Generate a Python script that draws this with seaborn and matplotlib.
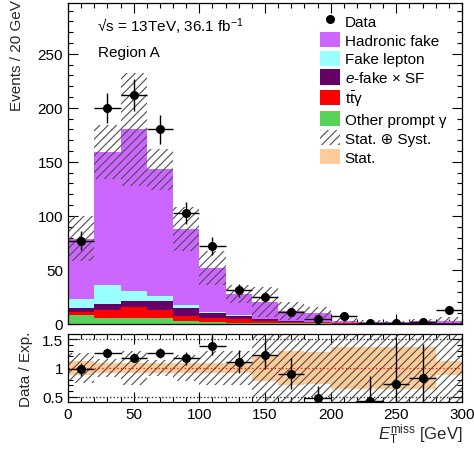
import numpy as np
import pandas as pd
import matplotlib
matplotlib.use("Agg")
import matplotlib.pyplot as plt
from matplotlib.patches import Patch
from matplotlib.lines import Line2D
from matplotlib.ticker import MultipleLocator, FuncFormatter
import seaborn as sns

# ---- binning (E_T^miss, 20 GeV bins) ----
bin_edges = np.arange(0, 320, 20)

# ---- observed events ----
data_counts = [77, 200, 212, 180, 103, 72, 31, 25, 11, 5, 7, 1, 1, 2, 13]

# ---- expected backgrounds per bin ----
hadronic_fake = [55.9, 122.6, 149.4, 117.1, 70.4, 41.2, 20.0, 15.8, 9.2, 8.3, 1.7, 1.4, 0.85, 1.75, 2.3]
fake_lepton = [8.0, 18.2, 9.3, 4.9, 3.1, 0.6, 0.3, 0.5, 0.3, 0.2, 0.1, 0.1, 0.05, 0.05, 0.1]
e_fake_sf = [3.7, 5.2, 5.6, 8.3, 6.8, 5.0, 3.1, 1.2, 0.8, 0.6, 0.3, 0.2, 0.1, 0.2, 0.2]
ttgamma = [3.1, 7.8, 10.5, 7.5, 4.6, 3.7, 3.4, 2.0, 1.3, 0.9, 0.5, 0.3, 0.2, 0.2, 0.2]
other_prompt = [8.3, 5.2, 5.2, 5.2, 3.1, 1.5, 1.2, 1.0, 0.6, 0.5, 0.4, 0.3, 0.2, 0.2, 0.2]

# ---- uncertainties on the total expectation ----
total_unc = [20.5, 25.0, 52.0, 19.0, 20.0, 15.5, 8.5, 14.0, 8.5, 5.2, 3.0, 1.3, 1.4, 2.0, 3.5]
mc_stat_unc = [9.0, 13.0, 14.5, 11.5, 7.0, 4.2, 2.3, 4.7, 3.5, 3.0, 1.1, 0.85, 0.52, 0.89, 0.38]

process_labels = ["Hadronic fake", "Fake lepton", r"$e$-fake $\times$ SF",
                  r"$\mathrm{t\bar{t}}$γ", "Other prompt γ"]
process_colors = ["#cc66ff", "#99ffff", "#660066", "#ff0000", "#5ad25a"]
hatch_color = "#4d4d4d"
stat_color = "#ffcc99"

FS = 11

sns.set_style("ticks")
plt.rcParams.update({
    "font.family": ["Liberation Sans", "DejaVu Sans"],
    "font.size": FS,
    "mathtext.fontset": "custom",
    "mathtext.rm": "Liberation Sans",
    "mathtext.it": "Liberation Sans:italic",
    "mathtext.bf": "Liberation Sans:bold",
    "mathtext.sf": "Liberation Sans",
    "hatch.linewidth": 0.8,
    "hatch.color": hatch_color,
    "axes.linewidth": 0.9,
    "axes.edgecolor": "black",
    "xtick.color": "black",
    "ytick.color": "black",
    "text.color": "black",
})

edges = np.asarray(bin_edges, dtype=float)
centers = 0.5 * (edges[:-1] + edges[1:])
half_width = 0.5 * np.diff(edges)
components = [hadronic_fake, fake_lepton, e_fake_sf, ttgamma, other_prompt]
total = np.sum(np.array(components), axis=0)
data = np.asarray(data_counts, dtype=float)
unc = np.asarray(total_unc)
stat = np.asarray(mc_stat_unc)

stack_df = pd.DataFrame({
    "met": np.tile(centers, len(components)),
    "events": np.concatenate(components),
    "process": np.repeat(process_labels, len(centers)),
})

W, H = 474, 452
fig = plt.figure(figsize=(W / 100, H / 100), dpi=100)
ax = fig.add_axes([68 / W, 1 - 325 / H, 394 / W, 321 / H])
rax = fig.add_axes([68 / W, 1 - 403 / H, 394 / W, 68 / H])

# ---- stacked expectation ----
sns.histplot(data=stack_df, x="met", weights="events", hue="process",
             hue_order=process_labels, palette=process_colors,
             multiple="stack", binwidth=20, binrange=(edges[0], edges[-1]),
             element="step", fill=True, alpha=1, linewidth=0, legend=False,
             ax=ax)


def step(arr):
    arr = np.asarray(arr, dtype=float)
    return np.append(arr, arr[-1])


# total uncertainty band
ax.fill_between(edges, step(np.clip(total - unc, 0, None)), step(total + unc),
                step="post", facecolor="none", edgecolor=hatch_color,
                hatch="////", linewidth=0, zorder=3)

# data
ax.errorbar(centers, data, xerr=half_width, yerr=np.sqrt(data), fmt="o",
            color="black", ms=5.5, elinewidth=1.0, capsize=0, zorder=5)

ax.set_xlim(0, 300)
ax.set_ylim(0, 297)
ax.set_xlabel("")
ax.set_ylabel("Events / 20 GeV", loc="top", fontsize=FS)
ax.yaxis.set_label_coords(-0.112, 1.012)
ax.xaxis.set_major_locator(MultipleLocator(50))
ax.xaxis.set_minor_locator(MultipleLocator(10))
ax.yaxis.set_major_locator(MultipleLocator(50))
ax.yaxis.set_minor_locator(MultipleLocator(10))
ax.tick_params(axis="x", labelbottom=False)

ax.text(0.073, 0.913, "√s = 13TeV, 36.1 fb$^{-1}$", transform=ax.transAxes,
        fontsize=FS, va="baseline")
ax.text(0.075, 0.836, "Region A", transform=ax.transAxes, fontsize=FS,
        va="baseline")

handles = [Line2D([], [], marker="o", ls="none", color="black", ms=5.5)]
handles += [Patch(facecolor=c, edgecolor="none") for c in process_colors]
handles += [Patch(facecolor="white", edgecolor=hatch_color, hatch="////", linewidth=0),
            Patch(facecolor=stat_color, edgecolor="none")]
labels = ["Data"] + process_labels + ["Stat. ⊕ Syst.", "Stat."]
ax.legend(handles, labels, loc="upper left", bbox_to_anchor=(0.64, 0.969),
          frameon=False, borderpad=0, borderaxespad=0, handlelength=1.3,
          handleheight=1.15, handletextpad=0.3, labelspacing=0.2,
          fontsize=FS)

# ---- ratio panel ----
with np.errstate(divide="ignore", invalid="ignore"):
    ratio = data / total
    ratio_err = np.sqrt(data) / total
rlo, rhi = 0.41, 1.59
shown = (ratio >= rlo) & (ratio <= rhi)

rax.fill_between(edges, step(1 - stat / total), step(1 + stat / total),
                 step="post", facecolor=stat_color, edgecolor="none",
                 linewidth=0, zorder=1)
rax.fill_between(edges, step(1 - unc / total), step(1 + unc / total),
                 step="post", facecolor="none", edgecolor=hatch_color,
                 hatch="////", linewidth=0, zorder=2)
rax.axhline(1.0, color="red", ls=(0, (1, 2)), lw=0.9, zorder=3)
for level in (0.5, 1.5):
    rax.axhline(level, color="#333333", ls=(0, (1, 1.5)), lw=1.0, zorder=3)
rax.errorbar(centers[shown], ratio[shown], xerr=half_width[shown],
             yerr=ratio_err[shown], fmt="o", color="black", ms=5.5,
             elinewidth=1.0, capsize=0, zorder=5)

rax.set_xlim(0, 300)
rax.set_ylim(rlo, rhi)
rax.xaxis.set_major_locator(MultipleLocator(50))
rax.xaxis.set_minor_locator(MultipleLocator(10))
rax.yaxis.set_major_locator(MultipleLocator(0.5))
rax.yaxis.set_minor_locator(MultipleLocator(0.1))
rax.yaxis.set_major_formatter(FuncFormatter(lambda v, p: f"{v:g}"))
rax.set_ylabel("Data / Exp.", fontsize=FS)
rax.yaxis.set_label_coords(-0.089, 0.5)
rax.set_xlabel(r"$E_{\mathrm{T}}^{\mathrm{miss}}$ [GeV]", loc="right", fontsize=12)
rax.xaxis.set_label_coords(1.0, -0.29)

for a in (ax, rax):
    a.tick_params(which="both", direction="in", top=True, right=True,
                  labelsize=FS, width=0.8)
    a.tick_params(which="major", length=7)
    a.tick_params(which="minor", length=3.5)
    for s in a.spines.values():
        s.set_visible(True)
        s.set_zorder(10)

fig.savefig("out.png", dpi=100)
